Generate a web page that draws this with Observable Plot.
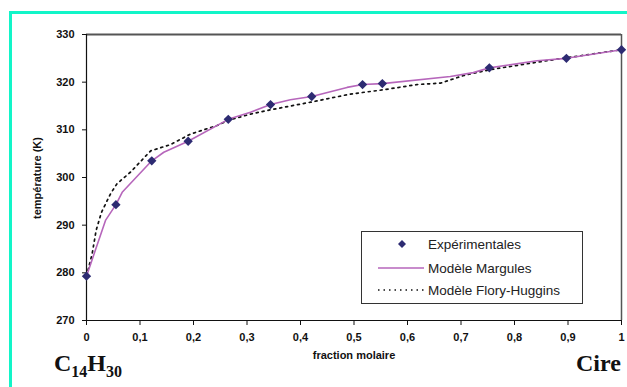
<!DOCTYPE html>
<html>
<head>
<meta charset="utf-8">
<script src="https://cdn.jsdelivr.net/npm/d3@7"></script>
<script src="https://cdn.jsdelivr.net/npm/@observablehq/plot@0.6"></script>
<style>
  html, body { margin: 0; padding: 0; background: #fff; }
  #wrap { position: relative; width: 627px; height: 387px; overflow: hidden; font-family: "Liberation Sans", Arial, sans-serif; }
  .teal { position: absolute; background: #12f5c8; }
  .abs { position: absolute; white-space: nowrap; }
  .axt { font-weight: bold; font-size: 11px; color: #111; }
  .big { font-family: "Liberation Serif", "Times New Roman", serif; font-weight: bold; font-size: 24px; color: #111; }
  .big sub { font-size: 16px; vertical-align: -6px; line-height: 0; }
  #legend { position: absolute; left: 361px; top: 231px; width: 220px; height: 71px; border: 1px solid #333; background: #fff; font-size: 13.5px; color: #222; }
  .row { position: absolute; left: 0; height: 20px; display: flex; align-items: center; }
  .row svg { display: block; }
</style>
</head>
<body>
<div id="wrap"></div>
<script>
// Experimental points
const expX = [0, 0.055, 0.122, 0.19, 0.265, 0.344, 0.421, 0.516, 0.553, 0.753, 0.897, 1];
const expY = [279.3, 294.3, 303.5, 307.6, 312.2, 315.3, 317.0, 319.5, 319.7, 323.0, 325.0, 326.8];

// Modèle Margules
const margX = [0, 0.0355, 0.055, 0.0667, 0.122, 0.1445, 0.19, 0.265, 0.3065, 0.344, 0.381, 0.421, 0.487, 0.516, 0.553, 0.68, 0.723, 0.753, 0.842, 0.897, 1];
const margY = [279.3, 291.0, 294.3, 296.9, 303.5, 305.3, 307.6, 312.2, 313.7, 315.3, 316.3, 317.0, 318.9, 319.5, 319.7, 321.2, 322.0, 323.0, 324.5, 325.0, 326.8];

// Modèle Flory-Huggins
const fhX = [0, 0.0106, 0.018, 0.028, 0.045, 0.057, 0.082, 0.12, 0.157, 0.194, 0.244, 0.265, 0.3065, 0.344, 0.419, 0.493, 0.555, 0.618, 0.662, 0.705, 0.753, 0.854, 1];
const fhY = [279.3, 284.0, 288.9, 292.7, 296.6, 298.7, 301.1, 305.6, 306.9, 309.1, 310.9, 312.0, 313.3, 314.2, 315.8, 317.5, 318.4, 319.5, 319.8, 321.4, 322.6, 324.4, 326.8];

const xTicks = [0, 0.1, 0.2, 0.3, 0.4, 0.5, 0.6, 0.7, 0.8, 0.9, 1];
const yTicks = [270, 280, 290, 300, 310, 320, 330];

const legendLabels = ["Expérimentales", "Modèle Margules", "Modèle Flory-Huggins"];
const xTitle = "fraction molaire";
const yTitle = "température (K)";
const leftName = "C<sub>14</sub>H<sub>30</sub>";
const rightName = "Cire";

const colMarker = "#2d2b72";
const colMarg = "#b666bb";

const exp = expX.map((x, i) => ({x, y: expY[i]}));
const marg = margX.map((x, i) => ({x, y: margY[i]}));
const fh = fhX.map((x, i) => ({x, y: fhY[i]}));

const fmt = d => d === 0 ? "0" : d === 1 ? "1" : String(+d.toFixed(1)).replace(".", ",");

const chart = Plot.plot({
  width: 627,
  height: 387,
  marginLeft: 86,
  marginRight: 6,
  marginTop: 34,
  marginBottom: 67,
  style: {fontFamily: "'Liberation Sans', Arial, sans-serif", fontSize: "11px", fontWeight: "bold", color: "#111", background: "transparent"},
  x: {domain: [0, 1]},
  y: {domain: [270, 330]},
  marks: [
    Plot.axisX({ticks: xTicks, tickFormat: fmt, tickSize: 5, tickPadding: 8, label: null, stroke: "#111"}),
    Plot.axisY({ticks: yTicks, tickSize: 4, tickPadding: 8, label: null, stroke: "#111"}),
    Plot.ruleY([330], {stroke: "#555", strokeWidth: 2}),
    Plot.ruleX([1], {stroke: "#555", strokeWidth: 1.5}),
    Plot.ruleX([0], {stroke: "#111", strokeWidth: 1.2}),
    Plot.ruleY([270], {stroke: "#111", strokeWidth: 1.2}),
    Plot.line(fh, {x: "x", y: "y", stroke: "#111", strokeWidth: 1.7, strokeDasharray: "2,4", curve: "linear"}),
    Plot.line(marg, {x: "x", y: "y", stroke: colMarg, strokeWidth: 1.6, curve: "linear"}),
    Plot.dot(exp, {x: "x", y: "y", symbol: "diamond2", r: 4.2, fill: colMarker, stroke: null})
  ]
});

const wrap = document.getElementById("wrap");
chart.style.position = "absolute";
chart.style.left = "0px";
chart.style.top = "0px";
wrap.appendChild(chart);

function addDiv(cls, html, css) {
  const d = document.createElement("div");
  d.className = cls;
  d.innerHTML = html;
  Object.assign(d.style, css);
  wrap.appendChild(d);
  return d;
}

// teal frame
addDiv("teal", "", {left: "9px", top: "11px", width: "3px", height: "376px"});
addDiv("teal", "", {left: "9px", top: "11px", width: "618px", height: "3px"});

// axis titles
addDiv("abs axt", xTitle, {left: "354px", top: "355px", transform: "translate(-50%, -50%)"});
addDiv("abs axt", yTitle, {left: "37px", top: "178px", transform: "translate(-50%, -50%) rotate(-90deg)"});

// component names
addDiv("abs big", leftName, {left: "54px", top: "350px"});
addDiv("abs big", rightName, {left: "576px", top: "350px"});

// legend
const lg = document.createElement("div");
lg.id = "legend";
wrap.appendChild(lg);
const rowsTop = [2, 26, 48];
const symbols = [
  `<svg width="66" height="20"><path d="M40,6 L44,10 L40,14 L36,10 Z" fill="${colMarker}"/></svg>`,
  `<svg width="66" height="20"><line x1="16" y1="10" x2="62" y2="10" stroke="${colMarg}" stroke-width="1.6"/></svg>`,
  `<svg width="66" height="20"><line x1="16" y1="10" x2="62" y2="10" stroke="#111" stroke-width="1.4" stroke-dasharray="1.5,4"/></svg>`
];
legendLabels.forEach((t, i) => {
  const r = document.createElement("div");
  r.className = "row";
  r.style.top = rowsTop[i] + "px";
  r.innerHTML = symbols[i] + `<span>${t}</span>`;
  lg.appendChild(r);
});
</script>
</body>
</html>
